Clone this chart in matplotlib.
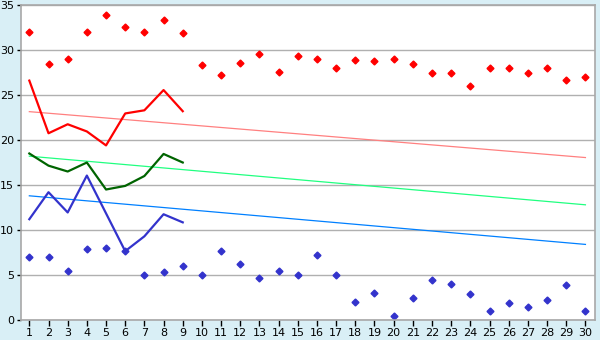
import numpy as np
import matplotlib
matplotlib.use('Agg')
import matplotlib.pyplot as plt

# data
days = list(range(1, 31))
red_pts = [32, 28.4, 29, 32, 33.85, 32.6, 32, 33.3, 31.85, 28.3,
           27.2, 28.6, 29.5, 27.6, 29.3, 28.95, 27.95, 28.85, 28.75, 28.95,
           28.4, 27.5, 27.5, 26.05, 27.95, 27.95, 27.5, 27.95, 26.65, 26.95]
blue_pts = [7, 7, 5.4, 7.85, 8.05, 7.65, 5, 5.3, 5.95, 5,
            7.65, 6.2, 4.65, 5.4, 5, 7.2, 5, 1.95, 2.95, 0.4,
            2.5, 4.4, 3.95, 2.85, 1.05, 1.85, 1.4, 2.2, 3.85, 1.05]
line_days = list(range(1, 10))
red_line = [26.6, 20.75, 21.75, 20.95, 19.4, 22.95, 23.3, 25.55, 23.2]
green_line = [18.5, 17.15, 16.5, 17.5, 14.5, 14.9, 16.0, 18.45, 17.5]
blue_line = [11.2, 14.2, 11.95, 16.05, 11.85, 7.65, 9.3, 11.75, 10.85]
# trend lines: value at day 1 and day 30
red_trend = [23.15, 18.05]
green_trend = [18.2, 12.8]
blue_trend = [13.8, 8.4]

bg = '#d9eff6'
fig = plt.figure(figsize=(6, 3.4), dpi=100, facecolor=bg)
ax = fig.add_axes([0.0345, 0.0588, 0.9572, 0.9265])
ax.set_facecolor('white')

ax.set_xlim(0.55, 30.5)
ax.set_ylim(0, 35)
ax.set_yticks(range(0, 36, 5))
ax.set_xticks(days)
ax.grid(axis='y', color='#b0b0b0', linewidth=1)
ax.set_axisbelow(True)

ends = [1, 30]
ax.plot(ends, red_trend, color='#ff8080', linewidth=0.9, drawstyle='default')
ax.plot(ends, green_trend, color='#20ff80', linewidth=0.9)
ax.plot(ends, blue_trend, color='#0080ff', linewidth=0.9)

ax.plot(line_days, red_line, color='#ff0000', linewidth=1.6)
ax.plot(line_days, green_line, color='#006400', linewidth=1.6)
ax.plot(line_days, blue_line, color='#3333cc', linewidth=1.6)

ax.plot(days, red_pts, linestyle='none', marker='D', markersize=3.5, color='#ff0000')
ax.plot(days, blue_pts, linestyle='none', marker='D', markersize=3.5, color='#3333cc')

for s in ['left', 'bottom', 'top', 'right']:
    ax.spines[s].set_color('#a8a8a8')
    ax.spines[s].set_linewidth(1.2)
ax.tick_params(axis='both', labelsize=8, colors='#000000', length=4, width=1,
               pad=2)
ax.tick_params(axis='x', color='#000000')
ax.tick_params(axis='y', color='#000000', length=3)

fig.savefig('out.png', dpi=100, facecolor=bg)
